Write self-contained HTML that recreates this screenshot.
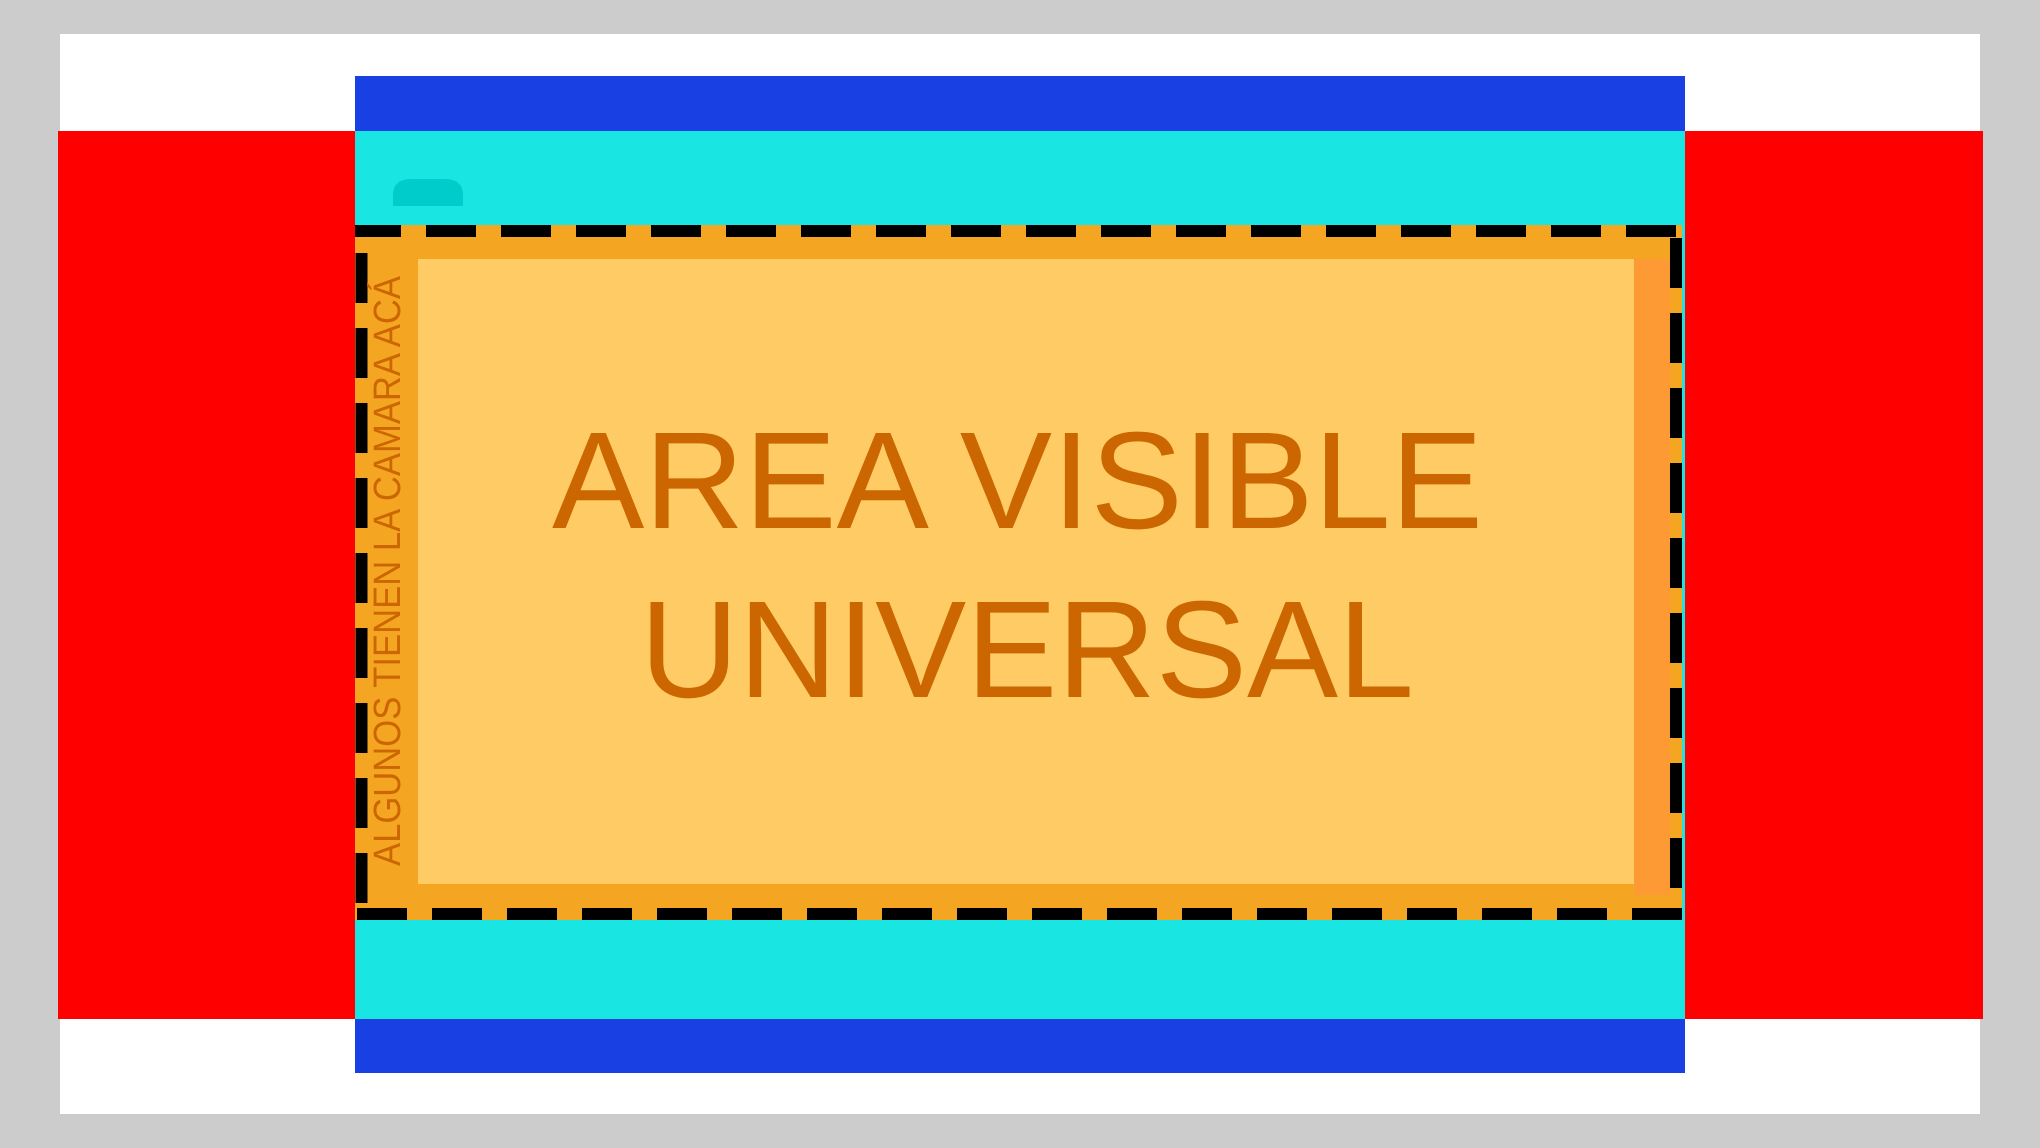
<!DOCTYPE html>
<html><head><meta charset="utf-8"><style>html,body{margin:0;padding:0;background:#cccccc;}svg{display:block}</style></head>
<body>
<svg width="2040" height="1148" viewBox="0 0 2040 1148">
<rect x="0" y="0" width="2040" height="1148" fill="#cccccc"/>
<rect x="60" y="34" width="1920" height="1080" fill="#ffffff"/>
<rect x="58" y="131" width="1925" height="888" fill="#ff0000"/>
<rect x="355" y="76" width="1330" height="997" fill="#1840e3"/>
<rect x="355" y="131" width="1330" height="888" fill="#19e6e3"/>
<path d="M393 206 L393 195 Q393 179 412 179 L444 179 Q463 179 463 195 L463 206 Z" fill="#00cccc"/>
<rect x="355" y="225" width="1327" height="695" fill="#f4a623"/>
<rect x="1634" y="259" width="36" height="636" fill="#fe9a33"/>
<rect x="418" y="259" width="1216" height="625" fill="#fecb65"/>
<g stroke="#000" stroke-width="12" fill="none" stroke-dasharray="50 25">
<line x1="355" y1="231" x2="1682" y2="231" stroke-dashoffset="4"/>
<line x1="355" y1="914" x2="1682" y2="914" stroke-dashoffset="-2"/>
<line x1="361.5" y1="253" x2="361.5" y2="908" stroke-dashoffset="0"/>
<line x1="1676" y1="238" x2="1676" y2="908" stroke-dashoffset="0"/>
</g>
<g font-family="'Liberation Sans', sans-serif" fill="#cc6600">
<text x="552" y="528" font-size="138" textLength="931" lengthAdjust="spacingAndGlyphs">AREA VISIBLE</text>
<text x="640" y="697" font-size="138" textLength="774" lengthAdjust="spacingAndGlyphs">UNIVERSAL</text>
<text transform="translate(400,866) rotate(-90)" x="0" y="0" font-size="38" textLength="590" lengthAdjust="spacingAndGlyphs">ALGUNOS TIENEN LA CAMARA ACÁ</text>
</g>
</svg>
</body></html>
